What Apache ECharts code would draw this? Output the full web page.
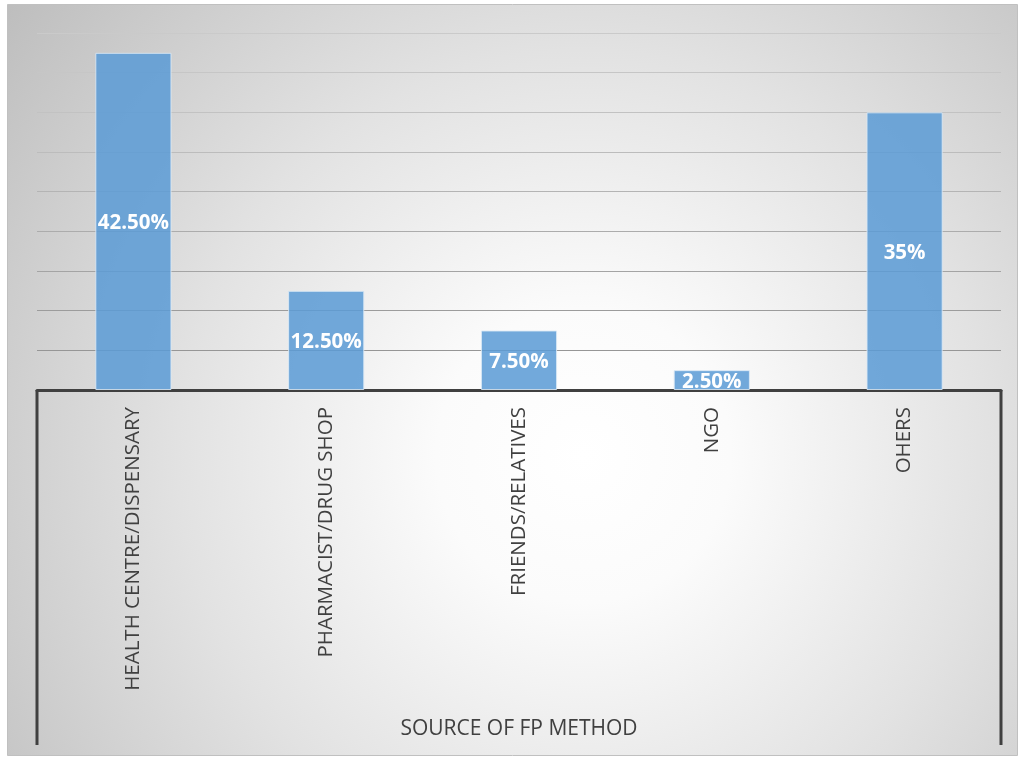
<!DOCTYPE html>
<html>
<head>
<meta charset="utf-8">
<title>Source of FP method</title>
<script src="https://cdn.jsdelivr.net/npm/echarts@6/dist/echarts.min.js"></script>
<style>
  html, body { margin: 0; padding: 0; background: #ffffff; }
  #chart { width: 1019px; height: 757px; }
</style>
</head>
<body>
<div id="chart"></div>
<script>
// Categories and shares of respondents by source of family planning method
const categories = ['HEALTH CENTRE/DISPENSARY', 'PHARMACIST/DRUG SHOP', 'FRIENDS/RELATIVES', 'NGO', 'OHERS'];
const shares = [42.5, 12.5, 7.5, 2.5, 35];
const shareLabels = ['42.50%', '12.50%', '7.50%', '2.50%', '35%'];
const axisTitle = 'SOURCE OF FP METHOD';

// Value axis range (gridlines every 5 points)
const yMin = 0, yMax = 45, yStep = 5;

// Gridline colours from bottom (0) to top (45): darker near the base
const gridColors = ['#404040', '#969696', '#9c9c9c', '#a4a4a4', '#acacac', '#b4b4b4', '#bcbcbc', '#c2c2c2', '#c6c6c6', '#cacaca'];

const GRID = { left: 37, right: 18, top: 33, bottom: 367 };

const chart = echarts.init(document.getElementById('chart'), null, { renderer: 'canvas' });

const option = {
  animation: false,
  backgroundColor: '#ffffff',
  graphic: [
    {
      type: 'rect',
      z: -10,
      silent: true,
      shape: { x: 7.5, y: 4.5, width: 1010, height: 751 },
      style: {
        fill: {
          type: 'radial', x: 0.57, y: 0.6, r: 0.98,
          colorStops: [
            { offset: 0, color: '#ffffff' },
            { offset: 0.2, color: '#fbfbfb' },
            { offset: 0.55, color: '#e2e2e2' },
            { offset: 1, color: '#bdbdbd' }
          ]
        },
        stroke: '#c0c0c0',
        lineWidth: 1
      }
    }
  ],
  grid: GRID,
  xAxis: {
    type: 'category',
    data: categories,
    boundaryGap: true,
    axisLine: { show: true, lineStyle: { color: '#404040', width: 3 } },
    axisTick: { show: false },
    axisLabel: {
      rotate: 90,
      interval: 0,
      margin: 17,
      color: '#404040',
      fontFamily: 'Open Sans',
      fontSize: 20.5
    },
    name: axisTitle,
    nameLocation: 'middle',
    nameGap: 329,
    nameTextStyle: { color: '#404040', fontFamily: 'Open Sans', fontSize: 21 }
  },
  yAxis: {
    type: 'value',
    min: yMin,
    max: yMax,
    interval: yStep,
    axisLine: { show: false },
    axisTick: { show: false },
    axisLabel: { show: false },
    splitLine: { show: true, lineStyle: { color: gridColors, width: 1.2 } }
  },
  series: [
    {
      type: 'bar',
      data: shares,
      barWidth: '39.5%',
      z: 3,
      itemStyle: {
        color: 'rgba(91,155,213,0.86)',
        borderColor: 'rgba(220,234,246,0.85)',
        borderWidth: 1
      },
      label: {
        show: true,
        position: 'inside',
        offset: [0, 2],
        color: '#ffffff',
        fontFamily: 'Open Sans',
        fontWeight: 'bold',
        fontSize: 20.5,
        formatter: p => shareLabels[p.dataIndex]
      }
    }
  ]
};

chart.setOption(option);

// Vertical borders of the category label area at both ends of the axis
const rect = chart.getModel().getComponent('grid', 0).coordinateSystem.getRect();
const bottomEdge = 745;
chart.setOption({
  graphic: [
    option.graphic[0],
    {
      type: 'line', z: 5, silent: true,
      shape: { x1: rect.x, y1: rect.y + rect.height, x2: rect.x, y2: bottomEdge },
      style: { stroke: '#404040', lineWidth: 3 }
    },
    {
      type: 'line', z: 5, silent: true,
      shape: { x1: rect.x + rect.width, y1: rect.y + rect.height, x2: rect.x + rect.width, y2: bottomEdge },
      style: { stroke: '#404040', lineWidth: 3 }
    }
  ]
});
</script>
</body>
</html>
